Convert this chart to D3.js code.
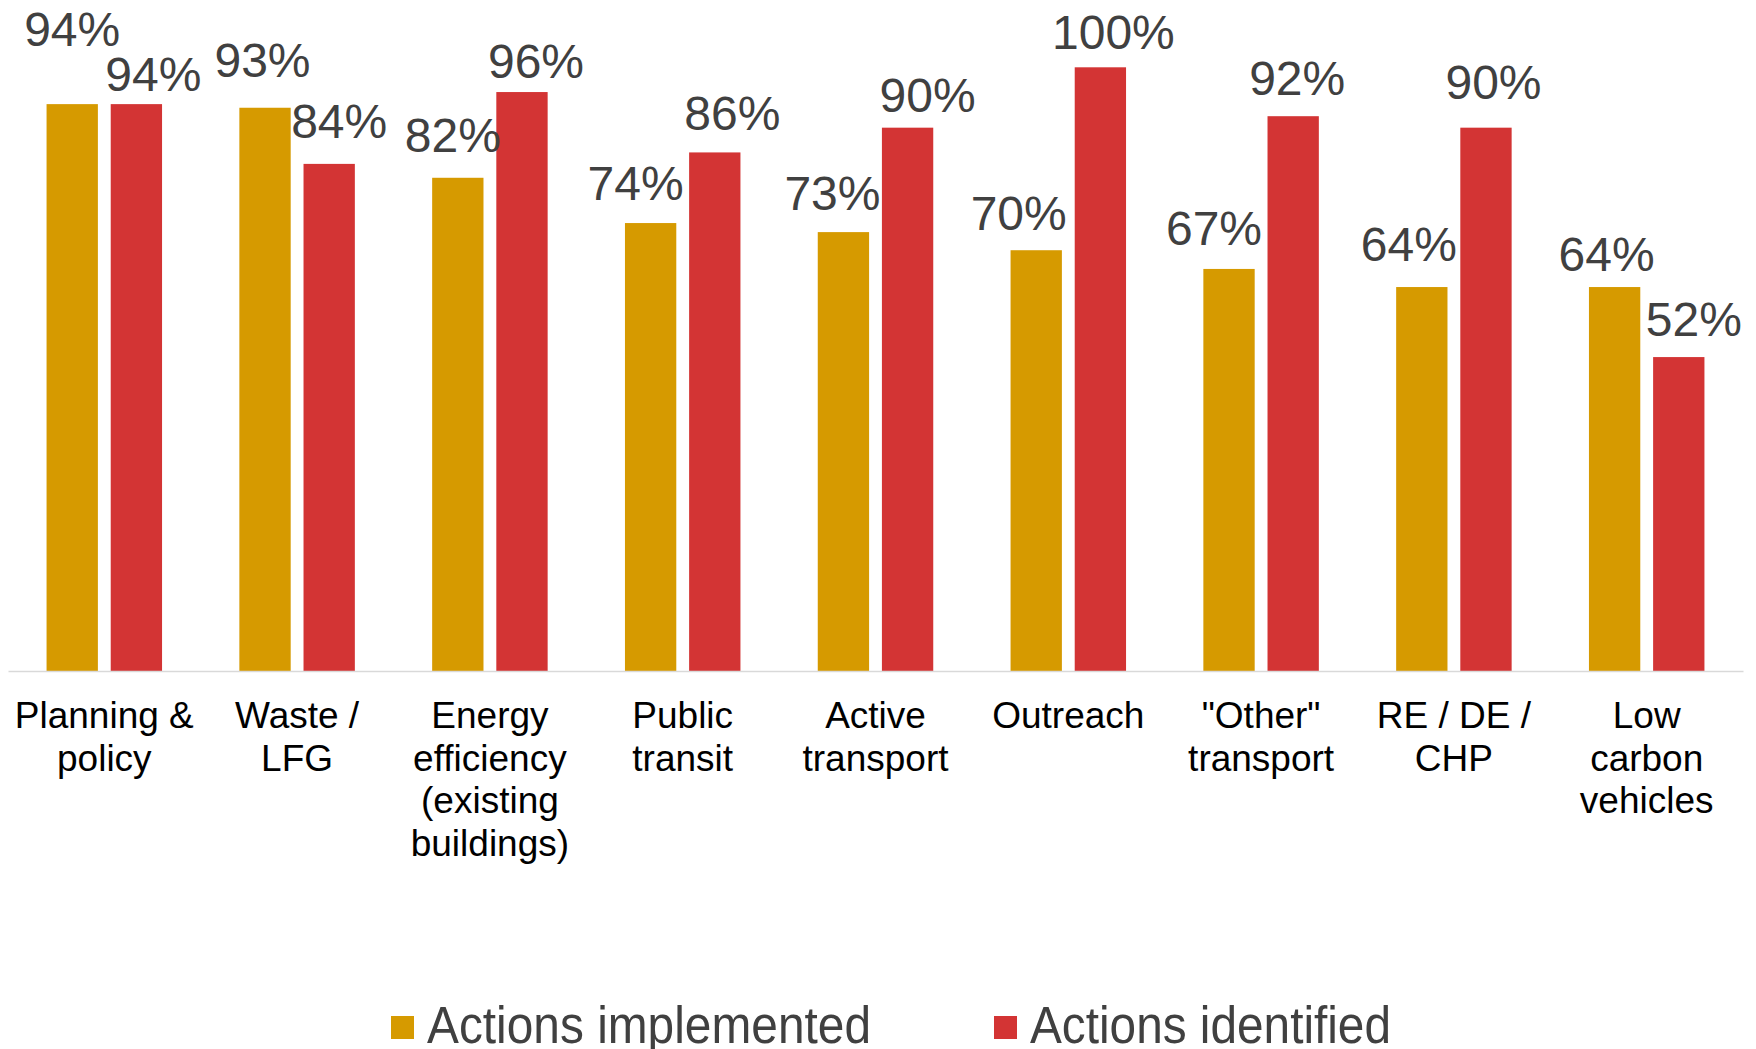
<!DOCTYPE html>
<html>
<head>
<meta charset="utf-8">
<script src="https://cdn.jsdelivr.net/npm/d3@7"></script>
<style>
  html, body { margin: 0; padding: 0; background: #fff; }
  svg { display: block; }
  text { font-family: "Liberation Sans", Arial, sans-serif; }
</style>
</head>
<body>
<svg id="chart" width="1756" height="1049"></svg>
<script>
// ---- Data ----
const categories = [
  "Planning & policy", "Waste / LFG", "Energy efficiency (existing buildings)",
  "Public transit", "Active transport", "Outreach", "\"Other\" transport",
  "RE / DE / CHP", "Low carbon vehicles"
];
const categoryLines = [
  ["Planning &", "policy"],
  ["Waste /", "LFG"],
  ["Energy", "efficiency", "(existing", "buildings)"],
  ["Public", "transit"],
  ["Active", "transport"],
  ["Outreach"],
  ["\"Other\"", "transport"],
  ["RE / DE /", "CHP"],
  ["Low", "carbon", "vehicles"]
];
const seriesNames = ["Actions implemented", "Actions identified"];
const implemented = [0.939, 0.933, 0.817, 0.742, 0.727, 0.697, 0.666, 0.636, 0.636];
const identified  = [0.939, 0.840, 0.959, 0.859, 0.900, 1.000, 0.919, 0.900, 0.520];
const seriesColors = ["#D69A00", "#D33434"];

// manual label nudges (dx, gap above bar top) as in the original layout
const labelNudgeImplemented = [[0,58],[-2.5,31],[-5,26],[-15,23],[-11,22],[-17.5,20],[-15,24],[-13,26],[-8,16]];
const labelNudgeIdentified  = [[17,13],[10,26],[14,14],[17.5,22],[20,16],[13,18],[4,21],[7.5,29],[15,21]];

// ---- Layout ----
const svg = d3.select("#chart");
const x0 = d3.scaleBand().domain(categories).range([8, 1743]).paddingInner(0.401).paddingOuter(0.2);
const x1 = d3.scaleBand().domain(seriesNames).range([0, x0.bandwidth()]).paddingInner(0.2).paddingOuter(0);
const y = d3.scaleLinear().domain([0, 1]).range([671, 67.3]);

const seriesData = [implemented, identified];
const nudges = [labelNudgeImplemented, labelNudgeIdentified];

const rows = [];
categories.forEach((c, i) => {
  seriesNames.forEach((s, j) => {
    rows.push({cat: c, series: s, j, value: seriesData[j][i], nudge: nudges[j][i]});
  });
});

// bars
svg.append("g").selectAll("rect").data(rows).join("rect")
  .attr("x", d => x0(d.cat) + x1(d.series))
  .attr("y", d => y(d.value))
  .attr("width", x1.bandwidth())
  .attr("height", d => y(0) - y(d.value))
  .attr("fill", d => seriesColors[d.j]);

// axis
const axis = svg.append("g")
  .attr("transform", `translate(0,${y(0)})`)
  .call(d3.axisBottom(x0).tickSize(0).tickSizeOuter(0));
axis.select(".domain").attr("stroke", "#D9D9D9").attr("stroke-width", 1.5);
axis.selectAll(".tick text").remove();
axis.selectAll(".tick").each(function(d, i) {
  const t = d3.select(this).append("text")
    .attr("fill", "#000")
    .attr("font-size", 37)
    .attr("text-anchor", "middle")
    .attr("y", 57);
  categoryLines[i].forEach((ln, k) => {
    t.append("tspan").attr("x", 0).attr("dy", k === 0 ? 0 : 42.5).text(ln);
  });
});

// data labels
const fmt = d3.format(".0%");
svg.append("g").selectAll("text").data(rows).join("text")
  .attr("x", d => x0(d.cat) + x1(d.series) + x1.bandwidth() / 2 + d.nudge[0])
  .attr("y", d => y(d.value) - d.nudge[1])
  .attr("text-anchor", "middle")
  .attr("font-size", 48)
  .attr("fill", "#404040")
  .text(d => fmt(d.value));

// legend
const legendX = [391, 994];
const legendW = [444, 361];
const lg = svg.append("g");
seriesNames.forEach((s, j) => {
  lg.append("rect").attr("x", legendX[j]).attr("y", 1016).attr("width", 23).attr("height", 23)
    .attr("fill", seriesColors[j]);
  lg.append("text").attr("x", legendX[j] + 36).attr("y", 1042.5)
    .attr("font-size", 51).attr("fill", "#404040")
    .attr("textLength", legendW[j]).attr("lengthAdjust", "spacingAndGlyphs")
    .text(s);
});
</script>
</body>
</html>
